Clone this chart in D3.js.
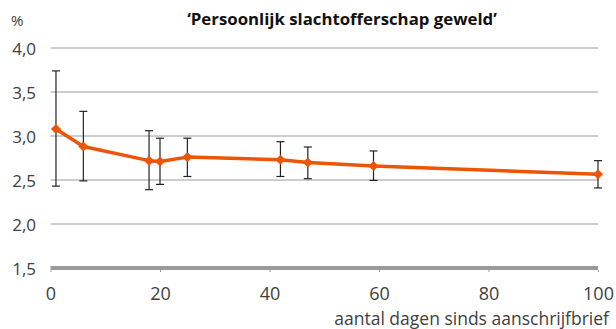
<!DOCTYPE html>
<html>
<head>
<meta charset="utf-8">
<script src="https://cdn.jsdelivr.net/npm/d3@7"></script>
<style>
  html, body { margin: 0; padding: 0; background: #fff; }
  svg { display: block; font-family: "Open Sans", sans-serif; }
</style>
</head>
<body>
<svg id="chart" width="616" height="329"></svg>
<script>
// Days since invitation letter, estimated percentage and interval bounds
const days   = [1, 6, 18, 20, 25, 42, 47, 59, 100];
const values = [3.08, 2.88, 2.72, 2.71, 2.76, 2.73, 2.70, 2.66, 2.565];
const lower  = [2.43, 2.49, 2.39, 2.45, 2.54, 2.54, 2.515, 2.495, 2.41];
const upper  = [3.74, 3.28, 3.06, 2.975, 2.975, 2.935, 2.875, 2.83, 2.72];
const xTicks = [0, 20, 40, 60, 80, 100];
const yTicks = [1.5, 2.0, 2.5, 3.0, 3.5, 4.0];

const title = "\u2018Persoonlijk slachtofferschap geweld\u2019";
const xTitle = "aantal dagen sinds aanschrijfbrief";
const yUnit = "%";

const svg = d3.select("#chart");
const plotLeft = 50.5, plotRight = 598, plotTop = 48, plotBottom = 268;

const x = d3.scaleLinear().domain([0, 100]).range([plotLeft, plotRight]);
const y = d3.scaleLinear().domain([1.5, 4.0]).range([plotBottom, plotTop]);

const nl = d3.formatLocale({ decimal: ",", thousands: ".", grouping: [3], currency: ["€", ""] });
const fmt = nl.format(".1f");
const textColor = "#404040";

// horizontal gridlines
svg.append("g")
  .selectAll("line")
  .data(yTicks.filter(d => d > 1.5))
  .join("line")
  .attr("x1", plotLeft).attr("x2", plotRight)
  .attr("y1", d => y(d)).attr("y2", d => y(d))
  .attr("stroke", "#9a9a9a").attr("stroke-width", 1);

// y tick labels
svg.append("g")
  .selectAll("text")
  .data(yTicks)
  .join("text")
  .attr("x", 36).attr("y", d => y(d) + 1)
  .attr("dy", "0.35em")
  .attr("text-anchor", "end")
  .attr("fill", textColor)
  .attr("font-size", 17)
  .text(d => fmt(d));

// x axis: thick baseline with ticks
const xAxis = svg.append("g").attr("transform", `translate(0,${plotBottom})`)
  .call(d3.axisBottom(x).tickValues(xTicks).tickSize(4).tickPadding(15).tickFormat(d3.format("d")));
xAxis.select(".domain").remove();
xAxis.selectAll(".tick line").attr("stroke", "#9a9a9a").attr("y1", 2);
xAxis.selectAll(".tick text")
  .attr("fill", textColor)
  .attr("font-size", 18)
  .attr("font-family", "Open Sans, sans-serif");
svg.append("line")
  .attr("x1", plotLeft).attr("x2", plotRight)
  .attr("y1", plotBottom).attr("y2", plotBottom)
  .attr("stroke", "#9a9a9a").attr("stroke-width", 4);

// error bars
const eb = svg.append("g").attr("stroke", "#222").attr("stroke-width", 1.2);
days.forEach((d, i) => {
  const cx = x(d);
  eb.append("line").attr("x1", cx).attr("x2", cx).attr("y1", y(upper[i])).attr("y2", y(lower[i]));
  eb.append("line").attr("x1", cx - 4).attr("x2", cx + 4).attr("y1", y(upper[i])).attr("y2", y(upper[i]));
  eb.append("line").attr("x1", cx - 4).attr("x2", cx + 4).attr("y1", y(lower[i])).attr("y2", y(lower[i]));
});

// series line
const orange = "#eb5505";
svg.append("path")
  .datum(days.map((d, i) => [d, values[i]]))
  .attr("fill", "none")
  .attr("stroke", orange)
  .attr("stroke-width", 3.5)
  .attr("stroke-linejoin", "round")
  .attr("d", d3.line().x(d => x(d[0])).y(d => y(d[1])));

// diamond markers
svg.append("g")
  .selectAll("path")
  .data(days.map((d, i) => [d, values[i]]))
  .join("path")
  .attr("transform", d => `translate(${x(d[0])},${y(d[1])})`)
  .attr("d", d3.symbol(d3.symbolDiamond2, 64))
  .attr("fill", orange);

// titles
svg.append("text")
  .attr("x", 342).attr("y", 24.5)
  .attr("text-anchor", "middle")
  .attr("font-weight", "bold")
  .attr("font-size", 16.8)
  .attr("fill", "#111")
  .text(title);

svg.append("text")
  .attr("x", 11).attr("y", 26)
  .attr("fill", textColor)
  .attr("font-size", 15)
  .text(yUnit);

svg.append("text")
  .attr("x", 609).attr("y", 324.5)
  .attr("text-anchor", "end")
  .attr("fill", textColor)
  .attr("font-size", 17.5)
  .text(xTitle);
</script>
</body>
</html>
